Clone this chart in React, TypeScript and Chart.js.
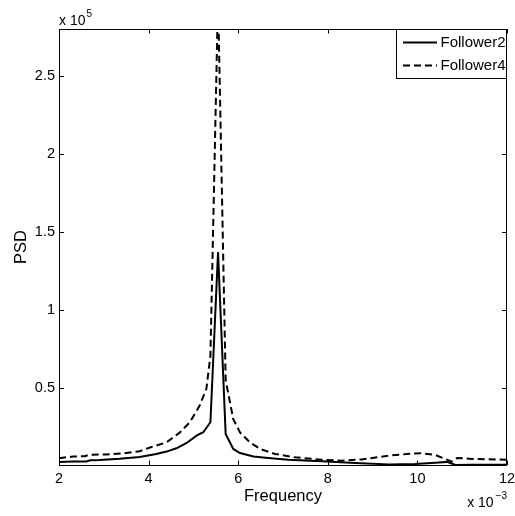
import React, { useEffect, useRef } from "react";
import { Chart, registerables } from "chart.js";

Chart.register(...registerables);

// Follower2 (solid)
const F2_FREQ = [
  0.0020, 0.0023, 0.00261, 0.0027, 0.00291, 0.00335, 0.0038, 0.00417, 0.0044, 0.00462,
  0.00485, 0.00507, 0.00522, 0.00538, 0.00555, 0.00572, 0.00589, 0.00604, 0.00634, 0.00667,
  0.00712, 0.00787, 0.00861, 0.00936, 0.00995, 0.0104, 0.01066, 0.01085, 0.01122, 0.01197, 0.012,
];
const F2_PSD = [
  2600, 2800, 2900, 3600, 3800, 4600, 5800, 7700, 9200, 11300,
  14700, 19400, 21600, 28000, 137000, 20500, 10900, 8300, 6000, 5100,
  4000, 3000, 1900, 1000, 1300, 2100, 2600, 600, 800, 800, 800,
];

// Follower4 (dashed)
const F4_FREQ = [
  0.0020, 0.00231, 0.00257, 0.00268, 0.00306, 0.0035, 0.0038, 0.00405, 0.0044, 0.0047,
  0.00492, 0.00514, 0.00529, 0.00538, 0.00555, 0.00572, 0.00589, 0.00604, 0.00626, 0.00649,
  0.00682, 0.00727, 0.00787, 0.00831, 0.00876, 0.00936, 0.00988, 0.0101, 0.0104, 0.01066,
  0.01077, 0.01089, 0.01122, 0.01197, 0.012,
];
const F4_PSD = [
  5000, 6000, 6200, 7200, 7300, 8300, 9400, 12000, 15100, 21500,
  28000, 38700, 49400, 70700, 300000, 55000, 30000, 21500, 15100, 10900,
  7700, 5500, 4000, 3400, 4200, 6600, 7900, 8100, 7000, 4000,
  2800, 5100, 4500, 4000, 4000,
];

const SERIES_LABELS = ["Follower2", "Follower4"];

const X_TICKS = [0.002, 0.004, 0.006, 0.008, 0.01, 0.012];
const X_TICK_LABELS = ["2", "4", "6", "8", "10", "12"];
const Y_TICKS = [50000, 100000, 150000, 200000, 250000];
const Y_TICK_LABELS = ["0.5", "1", "1.5", "2", "2.5"];

const X_MIN = 0.002;
const X_MAX = 0.012;
const Y_MIN = 600;
const Y_MAX = 280000;

const FONT = "'Liberation Sans', Arial, Helvetica, sans-serif";

const framePlugin = {
  id: "matlabFrame",
  afterDraw(chart: any) {
    const { ctx, chartArea } = chart;
    const { left, right, top, bottom } = chartArea;
    const xs = chart.scales.x;
    const ys = chart.scales.y;
    ctx.save();
    ctx.strokeStyle = "#000";
    ctx.fillStyle = "#000";
    ctx.lineWidth = 1;
    ctx.setLineDash([]);
    // box
    ctx.strokeRect(left + 0.5, top + 0.5, right - left - 1, bottom - top);
    // inside ticks
    ctx.beginPath();
    X_TICKS.forEach((v) => {
      const px = Math.round(xs.getPixelForValue(v)) + 0.5;
      ctx.moveTo(px, bottom);
      ctx.lineTo(px, bottom - 4.5);
      ctx.moveTo(px, top);
      ctx.lineTo(px, top + 4.5);
    });
    Y_TICKS.forEach((v) => {
      const py = Math.round(ys.getPixelForValue(v)) + 0.5;
      ctx.moveTo(left, py);
      ctx.lineTo(left + 5, py);
      ctx.moveTo(right, py);
      ctx.lineTo(right - 5, py);
    });
    ctx.stroke();

    // axis titles
    ctx.font = `16.5px ${FONT}`;
    ctx.textAlign = "center";
    ctx.textBaseline = "alphabetic";
    ctx.fillText("Frequency", (left + right) / 2, 501);
    ctx.save();
    ctx.translate(26, (top + bottom) / 2);
    ctx.rotate(-Math.PI / 2);
    ctx.fillText("PSD", 0, 0);
    ctx.restore();

    // exponent labels
    ctx.textAlign = "left";
    ctx.font = `14px ${FONT}`;
    ctx.fillText("x 10", left, 25);
    const w1 = ctx.measureText("x 10").width;
    ctx.font = `10px ${FONT}`;
    ctx.fillText("5", left + w1 + 1, 16.5);

    ctx.font = `10px ${FONT}`;
    const expW = ctx.measureText("\u22123").width;
    const expX = right - expW;
    ctx.fillText("\u22123", expX, 498.5);
    ctx.font = `14px ${FONT}`;
    ctx.textAlign = "right";
    ctx.fillText("x 10", expX - 2, 507);

    // legend
    const lx = 396.5;
    const ly = top + 0.5;
    const lw = right - 0.5 - lx;
    const lh = 49;
    ctx.fillStyle = "#fff";
    ctx.fillRect(lx, ly, lw, lh);
    ctx.strokeStyle = "#000";
    ctx.lineWidth = 1;
    ctx.strokeRect(lx, ly, lw, lh);
    const rows = [ly + 13, ly + 36];
    chart.data.datasets.forEach((ds: any, i: number) => {
      const y = rows[i];
      ctx.save();
      ctx.strokeStyle = ds.borderColor;
      ctx.lineWidth = ds.borderWidth;
      ctx.setLineDash(ds.borderDash || []);
      ctx.beginPath();
      ctx.moveTo(lx + 6.5, y);
      ctx.lineTo(lx + 40.5, y);
      ctx.stroke();
      ctx.restore();
      ctx.fillStyle = "#000";
      ctx.font = `15px ${FONT}`;
      ctx.textAlign = "left";
      ctx.textBaseline = "middle";
      ctx.fillText(ds.label, lx + 44, y + 0.5);
    });
    ctx.restore();
  },
};

export default function App() {
  const ref = useRef<HTMLCanvasElement | null>(null);

  useEffect(() => {
    if (!ref.current) return;
    const chart = new Chart(ref.current, {
      type: "line",
      data: {
        datasets: [
          {
            label: SERIES_LABELS[0],
            data: F2_FREQ.map((x, i) => ({ x, y: F2_PSD[i] })),
            borderColor: "#000",
            borderWidth: 2,
            pointRadius: 0,
            tension: 0,
            fill: false,
          },
          {
            label: SERIES_LABELS[1],
            data: F4_FREQ.map((x, i) => ({ x, y: F4_PSD[i] })),
            borderColor: "#000",
            borderWidth: 2,
            borderDash: [7, 4],
            pointRadius: 0,
            tension: 0,
            fill: false,
          },
        ],
      },
      options: {
        responsive: false,
        animation: false,
        devicePixelRatio: 1,
        layout: { padding: { top: 29, right: 8, left: 0, bottom: 0 } },
        plugins: {
          legend: { display: false },
          tooltip: { enabled: false },
        },
        scales: {
          x: {
            type: "linear",
            min: X_MIN,
            max: X_MAX,
            afterBuildTicks: (s: any) => {
              s.ticks = X_TICKS.map((v) => ({ value: v }));
            },
            afterFit: (s: any) => {
              s.height = 51;
              s.paddingLeft = 0;
              s.paddingRight = 0;
            },
            grid: { display: false, drawTicks: false },
            border: { display: false },
            ticks: {
              autoSkip: false,
              maxRotation: 0,
              padding: 5,
              color: "#000",
              font: { family: FONT, size: 14.5 },
              callback: (v: any, i: number) => X_TICK_LABELS[i],
            },
          },
          y: {
            type: "linear",
            min: Y_MIN,
            max: Y_MAX,
            afterBuildTicks: (s: any) => {
              s.ticks = Y_TICKS.map((v) => ({ value: v }));
            },
            afterFit: (s: any) => {
              s.width = 59;
              s.paddingTop = 0;
              s.paddingBottom = 0;
            },
            grid: { display: false, drawTicks: false },
            border: { display: false },
            ticks: {
              autoSkip: false,
              padding: 4,
              color: "#000",
              font: { family: FONT, size: 14.5 },
              callback: (v: any, i: number) => Y_TICK_LABELS[i],
            },
          },
        },
      },
      plugins: [framePlugin],
    });
    return () => chart.destroy();
  }, []);

  return (
    <div style={{ position: "absolute", left: 0, top: 0, width: 515, height: 516, background: "#fff" }}>
      <canvas ref={ref} width={515} height={516} style={{ display: "block" }} />
    </div>
  );
}
